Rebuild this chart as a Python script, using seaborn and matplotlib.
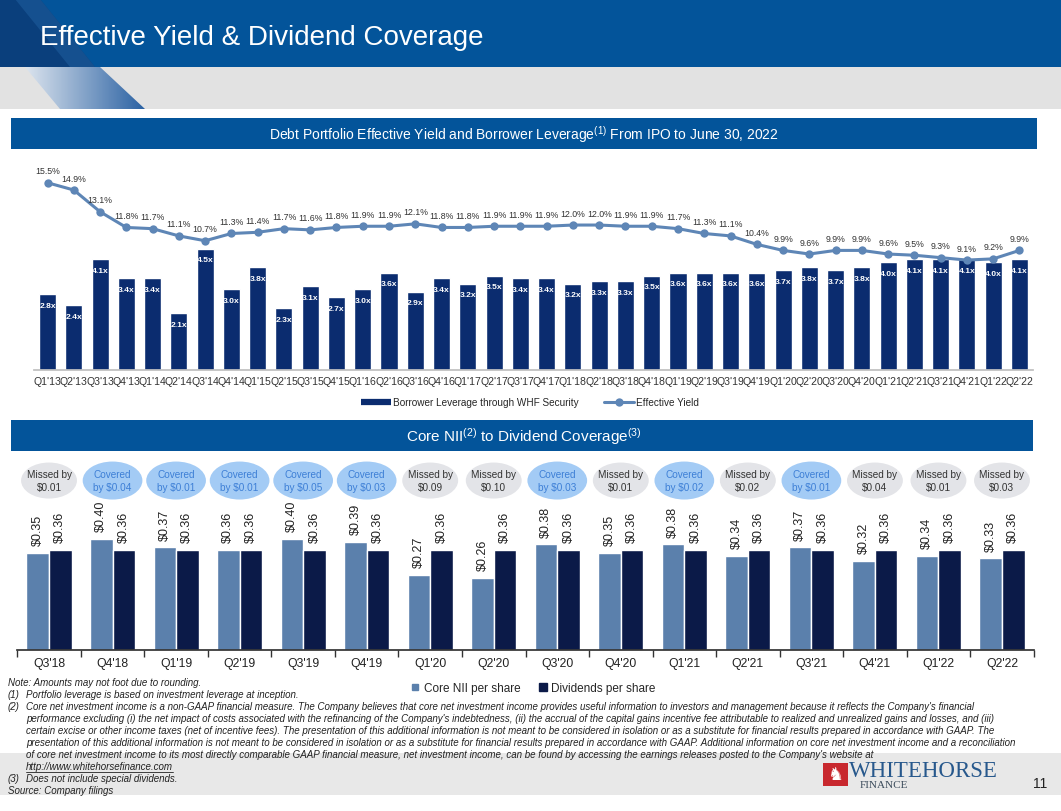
import numpy as np
import pandas as pd
import matplotlib
matplotlib.use('Agg')
import matplotlib.pyplot as plt
import seaborn as sns
from matplotlib import font_manager
from matplotlib.patches import Rectangle, Ellipse, Polygon
from matplotlib.lines import Line2D

# ---------------- data ----------------
quarters = ["Q1'13", "Q2'13", "Q3'13", "Q4'13", "Q1'14", "Q2'14", "Q3'14", "Q4'14",
            "Q1'15", "Q2'15", "Q3'15", "Q4'15", "Q1'16", "Q2'16", "Q3'16", "Q4'16",
            "Q1'17", "Q2'17", "Q3'17", "Q4'17", "Q1'18", "Q2'18", "Q3'18", "Q4'18",
            "Q1'19", "Q2'19", "Q3'19", "Q4'19", "Q1'20", "Q2'20", "Q3'20", "Q4'20",
            "Q1'21", "Q2'21", "Q3'21", "Q4'21", "Q1'22", "Q2'22"]
leverage = [2.8, 2.4, 4.1, 3.4, 3.4, 2.1, 4.5, 3.0, 3.8, 2.3, 3.1, 2.7, 3.0, 3.6, 2.9, 3.4,
            3.2, 3.5, 3.4, 3.4, 3.2, 3.3, 3.3, 3.5, 3.6, 3.6, 3.6, 3.6, 3.7, 3.8, 3.7, 3.8,
            4.0, 4.1, 4.1, 4.1, 4.0, 4.1]
eff_yield = [15.5, 14.9, 13.1, 11.8, 11.7, 11.1, 10.7, 11.3, 11.4, 11.7, 11.6, 11.8, 11.9,
             11.9, 12.1, 11.8, 11.8, 11.9, 11.9, 11.9, 12.0, 12.0, 11.9, 11.9, 11.7, 11.3,
             11.1, 10.4, 9.9, 9.6, 9.9, 9.9, 9.6, 9.5, 9.3, 9.1, 9.2, 9.9]

cov_quarters = ["Q3'18", "Q4'18", "Q1'19", "Q2'19", "Q3'19", "Q4'19", "Q1'20", "Q2'20",
                "Q3'20", "Q4'20", "Q1'21", "Q2'21", "Q3'21", "Q4'21", "Q1'22", "Q2'22"]
core_nii = [0.35, 0.40, 0.37, 0.36, 0.40, 0.39, 0.27, 0.26, 0.38, 0.35, 0.38, 0.34, 0.37,
            0.32, 0.34, 0.33]
dividends = [0.36, 0.36, 0.36, 0.36, 0.36, 0.36, 0.36, 0.36, 0.36, 0.36, 0.36, 0.36, 0.36,
             0.36, 0.36, 0.36]
cov_labels = ["Missed by\n\\$0.01", "Covered\nby \\$0.04", "Covered\nby \\$0.01",
              "Covered\nby \\$0.01", "Covered\nby \\$0.05", "Covered\nby \\$0.03",
              "Missed by\n\\$0.09", "Missed by\n\\$0.10", "Covered\nby \\$0.03",
              "Missed by\n\\$0.01", "Covered\nby \\$0.02", "Missed by\n\\$0.02",
              "Covered\nby \\$0.01", "Missed by\n\\$0.04", "Missed by\n\\$0.01",
              "Missed by\n\\$0.03"]

footnote2 = [
    "Core net investment income is a non-GAAP financial measure. The Company believes that core net investment income provides useful information to investors and management because it reflects the Company's financial",
    "performance excluding (i) the net impact of costs associated with the refinancing of the Company's indebtedness, (ii) the accrual of the capital gains incentive fee attributable to realized and unrealized gains and losses, and (iii)",
    "certain excise or other income taxes (net of incentive fees). The presentation of this additional information is not meant to be considered in isolation or as a substitute for financial results prepared in accordance with GAAP. The",
    "presentation of this additional information is not meant to be considered in isolation or as a substitute for financial results prepared in accordance with GAAP. Additional information on core net investment income and a reconciliation",
    "of core net investment income to its most directly comparable GAAP financial measure, net investment income, can be found by accessing the earnings releases posted to the Company's website at",
    "http://www.whitehorsefinance.com",
]

# ---------------- style ----------------
BLUE = '#03549A'
NAVY = '#0B2C6F'
LINE = '#5E86B6'
LIGHT = '#5B80AC'
DARK = '#0B1A48'

sns.set_theme(style='white')
plt.rcParams['font.family'] = ['Liberation Sans', 'DejaVu Sans']
plt.rcParams['mathtext.default'] = 'regular'

installed = {f.name for f in font_manager.fontManager.ttflist}
if 'Liberation Sans Narrow' in installed:
    note_font, note_size = 'Liberation Sans Narrow', 8.4
else:
    note_font, note_size = 'Liberation Sans', 7.0

W, H = 1061, 812
fig = plt.figure(figsize=(W / 100, H / 100), dpi=100)
bg = fig.add_axes([0, 0, 1, 1])
bg.axis('off')


def px_axes(l, t, r, b):
    return fig.add_axes([l / W, 1 - b / H, (r - l) / W, (b - t) / H])


# header
bg.add_patch(Rectangle((0, 0), W, 68, color=BLUE, lw=0))
bg.add_patch(Polygon([(0, 0), (40, 0), (95, 68), (0, 68)], color='#0A3F7C', lw=0))
bg.add_patch(Polygon([(15, 0), (40, 0), (95, 68), (70, 68)], color='#1E5C9C', lw=0, alpha=0.6))
bg.add_patch(Rectangle((0, 68), W, 42, color='#E2E2E2', lw=0))
rib = Polygon([(25, 68), (100, 68), (145, 110), (60, 110)], closed=True, transform=bg.transData)
grad = np.linspace(0, 1, 100).reshape(1, -1)
im = bg.imshow(grad, extent=(25, 145, 110, 68), zorder=3, aspect='auto',
               cmap=matplotlib.colors.LinearSegmentedColormap.from_list('rb', ['#DCE4EE', '#2B62A3']))
im.set_clip_path(rib)
bg.set_xlim(0, W)
bg.set_ylim(H, 0)
bg.text(40, 38, 'Effective Yield & Dividend Coverage', color='white', fontsize=20, va='center')

# section bars
bg.add_patch(Rectangle((11, 119), 1026, 31, color=BLUE, lw=0))
bg.text(524, 135, 'Debt Portfolio Effective Yield and Borrower Leverage$^{(1)}$ From IPO to June 30, 2022',
        color='white', fontsize=10, ha='center', va='center')
bg.add_patch(Rectangle((11, 421), 1022, 31, color=BLUE, lw=0))
bg.text(524, 437, 'Core NII$^{(2)}$ to Dividend Coverage$^{(3)}$',
        color='white', fontsize=11, ha='center', va='center')

# ---------------- top chart ----------------
top = pd.DataFrame({'quarter': quarters, 'leverage': leverage, 'yield': eff_yield})
ax1 = px_axes(34.4, 163, 1032.6, 371)
ax1.set_facecolor('none')
sns.barplot(data=top, x='quarter', y='leverage', color=NAVY, width=0.65, saturation=1, ax=ax1)
ax1.set_xlim(-0.5, len(quarters) - 0.5)
ax1.set_ylim(0, 208 / 27)
for i, v in enumerate(leverage):
    ax1.annotate(f'{v:.1f}x', (i, v), xytext=(0, -8), textcoords='offset points', ha='center',
                 va='center', color='white', fontsize=6.1, fontweight='bold')

ax2 = ax1.twinx()
sns.lineplot(x=np.arange(len(quarters)), y=eff_yield, ax=ax2, color=LINE, lw=2.2, marker='o',
             markersize=6, markeredgewidth=0)
ax2.set_ylim(0, 208 / 12.08)
for i, v in enumerate(eff_yield):
    ax2.annotate(f'{v:.1f}%', (i, v), xytext=(0, 8.6), textcoords='offset points', ha='center',
                 va='center', color='#333333', fontsize=6.3)

for a in (ax1, ax2):
    for s in a.spines.values():
        s.set_visible(False)
    a.set_yticks([])
    a.set_xlabel('')
    a.set_ylabel('')
ax1.spines['bottom'].set_visible(True)
ax1.spines['bottom'].set_color('#BFBFBF')
ax1.tick_params(axis='x', length=0, labelsize=7.6, colors='#333333', pad=4)

top_handles = [Line2D([], [], color=NAVY, lw=4.5, solid_capstyle='butt'),
               Line2D([], [], color=LINE, lw=2.2, marker='o', markersize=6, markeredgewidth=0)]
fig.legend(top_handles, ['Borrower Leverage through WHF Security', 'Effective Yield'],
           loc='center', bbox_to_anchor=(530 / W, 1 - 403 / H), ncol=2, frameon=False,
           fontsize=7.2, handlelength=3, handletextpad=0.2, columnspacing=2.5)

# ---------------- bottom chart ----------------
px_per = 277.8
bot = pd.DataFrame({'quarter': cov_quarters * 2,
                    'series': ['Core NII per share'] * len(core_nii) + ['Dividends per share'] * len(dividends),
                    'value': core_nii + dividends})
ax3 = px_axes(17.25, 651 - 0.7 * px_per, 1033.75, 651)
ax3.set_facecolor('none')
sns.barplot(data=bot, x='quarter', y='value', hue='series', palette=[LIGHT, DARK], width=0.71,
            gap=0, saturation=1, ax=ax3, legend=False)
ax3.set_xlim(-0.5, len(cov_quarters) - 0.5)
ax3.set_ylim(0, 0.7)
for cont in ax3.containers:
    for bar in cont:
        h = bar.get_height()
        ax3.annotate(f'\\${h:.2f}', (bar.get_x() + bar.get_width() / 2, h), xytext=(0, 5.5),
                     textcoords='offset points', rotation=90, ha='center', va='bottom',
                     fontsize=9, color='#222222')

for i, lab in enumerate(cov_labels):
    covered = lab.startswith('Covered')
    w = 0.94 if covered else 0.88
    hgt = (38 if covered else 36) / px_per
    ax3.add_patch(Ellipse((i, 0.61), w, hgt, facecolor='#A3CBF5' if covered else '#E3E4E8',
                          edgecolor='none', clip_on=False))
    ax3.text(i, 0.61, lab, ha='center', va='center', fontsize=7.2, linespacing=1.35,
             color='#3D7FD6' if covered else '#333333')

for s in ax3.spines.values():
    s.set_visible(False)
ax3.spines['bottom'].set_visible(True)
ax3.spines['bottom'].set_color('#333333')
ax3.set_yticks([])
ax3.set_xlabel('')
ax3.set_ylabel('')
ax3.set_xticks(np.arange(-0.5, len(cov_quarters)), minor=True)
ax3.tick_params(axis='x', which='major', length=0, labelsize=8.8, colors='#222222', pad=5)
ax3.tick_params(axis='x', which='minor', length=5, width=1, color='#333333', direction='out', bottom=True)

bot_handles = [Line2D([], [], color=LIGHT, marker='s', markersize=4, lw=0),
               Line2D([], [], color=DARK, marker='s', markersize=6, lw=0)]
fig.legend(bot_handles, ['Core NII per share', 'Dividends per share'], loc='center',
           bbox_to_anchor=(533 / W, 1 - 689 / H), ncol=2, frameon=False, fontsize=8.5,
           handlelength=0.8, handletextpad=0.3, columnspacing=1.5)

# ---------------- footer ----------------
bg.add_patch(Rectangle((0, 754), W, 42, color='#E8E8E8', lw=0))
nkw = dict(fontsize=note_size, style='italic', va='center', color='#222222', family=note_font)
bg.text(8, 683, 'Note: Amounts may not foot due to rounding.', **nkw)
bg.text(8, 695, '(1)', **nkw)
bg.text(26, 695, 'Portfolio leverage is based on investment leverage at inception.', **nkw)
bg.text(8, 707, '(2)', **nkw)
for k, line in enumerate(footnote2):
    t = bg.text(26, 707 + 12 * k, line, **nkw)
fig.canvas.draw()
bb = t.get_window_extent().transformed(bg.transData.inverted())
bg.plot([bb.x0, bb.x1], [773, 773], color='#222222', lw=0.6)
bg.text(8, 779, '(3)', **nkw)
bg.text(26, 779, 'Does not include special dividends.', **nkw)
bg.text(8, 791, 'Source: Company filings', **nkw)

# logo
bg.add_patch(Rectangle((823, 764), 25, 23, color='#C8282E', lw=0))
bg.text(835.5, 775.5, '\u265e', color='white', fontsize=13, ha='center', va='center', family='DejaVu Sans')
bg.text(849, 772, 'WHITEHORSE', color='#27588C', fontsize=16.5, va='center', family='Liberation Serif')
bg.text(860, 786, 'FINANCE', color='#3A4A5A', fontsize=8, va='center', family='Liberation Serif')
bg.text(1040, 784, '11', color='#222222', fontsize=10, ha='center', va='center')

fig.savefig('out.png', dpi=100)
